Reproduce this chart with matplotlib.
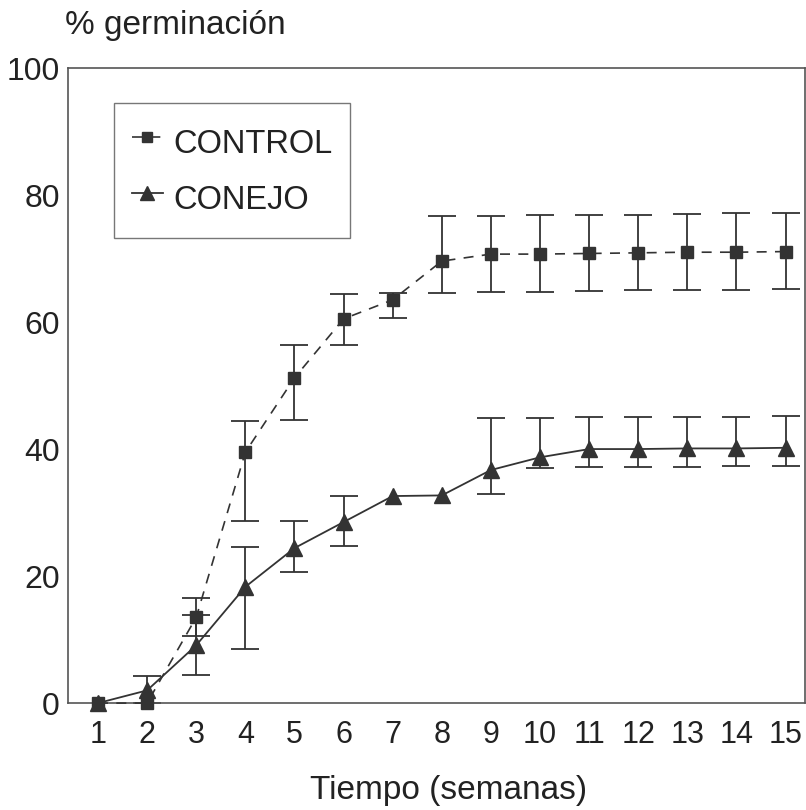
import matplotlib
matplotlib.use('Agg')
from matplotlib import pyplot as plt

plt.rcParams['font.family'] = ['Liberation Sans', 'DejaVu Sans']

semanas = list(range(1, 16))

# CONTROL: media y extremos de las barras de error
control = [0, 0, 13.5, 39.5, 51.2, 60.5, 63.5, 69.6, 70.7, 70.7, 70.8, 70.9, 71.0, 71.0, 71.1]
control_lo = [0, 0, 10.5, 28.7, 44.6, 56.4, 60.6, 64.6, 64.7, 64.8, 64.9, 65.0, 65.0, 65.1, 65.2]
control_hi = [0, 0, 16.5, 44.4, 56.4, 64.4, 64.6, 76.7, 76.7, 76.8, 76.8, 76.9, 77.0, 77.1, 77.2]

# CONEJO
conejo = [0, 2.0, 9.1, 18.3, 24.4, 28.5, 32.6, 32.7, 36.7, 38.7, 40.0, 40.0, 40.1, 40.1, 40.2]
conejo_lo = [0, 0, 4.4, 8.5, 20.6, 24.7, 32.6, 32.7, 32.9, 37.0, 37.2, 37.2, 37.2, 37.3, 37.3]
conejo_hi = [0, 4.2, 13.8, 24.6, 28.7, 32.6, 32.6, 32.7, 44.9, 44.9, 45.0, 45.0, 45.1, 45.1, 45.2]

c = '#333333'

fig = plt.figure(figsize=(8.06, 8.10), dpi=100)
ax = fig.add_axes([0.0844, 0.132, 0.914, 0.784])


def barras(x, y, lo, hi):
    xs, ys, el, eh = [], [], [], []
    for a, b, l, h in zip(x, y, lo, hi):
        if h - l > 0.5:
            xs.append(a)
            ys.append(b)
            el.append(b - l)
            eh.append(h - b)
    ax.errorbar(xs, ys, yerr=[el, eh], fmt='none', ecolor=c, elinewidth=1.3,
                capsize=10, capthick=1.3, zorder=2)


barras(semanas, control, control_lo, control_hi)
barras(semanas, conejo, conejo_lo, conejo_hi)

ax.plot(semanas, control, linestyle=(0, (6, 5)), color=c, linewidth=1.2,
        marker='s', markersize=8, markerfacecolor=c, markeredgecolor=c,
        label='CONTROL', zorder=3, clip_on=False)
ax.plot(semanas, conejo, linestyle='-', color=c, linewidth=1.3,
        marker='^', markersize=12, markerfacecolor=c, markeredgecolor=c,
        label='CONEJO', zorder=3, clip_on=False)

ax.set_xlim(0.39, 15.39)
ax.set_ylim(0, 100)
ax.set_xticks(semanas)
ax.set_yticks([0, 20, 40, 60, 80, 100])
ax.tick_params(axis='both', length=0, colors='#222222')
ax.tick_params(axis='x', pad=12, labelsize=22)
ax.tick_params(axis='y', pad=6, labelsize=23)
for s in ax.spines.values():
    s.set_color('#555555')
    s.set_linewidth(1.2)

fig.text(0.081, 0.969, '% germinación', fontsize=24, color='#222222', va='center', ha='left')
fig.text(0.556, 0.024, 'Tiempo (semanas)', fontsize=24, color='#222222', va='center', ha='center')

leg = ax.legend(loc='upper left', bbox_to_anchor=(0.0624, 0.945), borderaxespad=0,
                fontsize=23.5, frameon=True, fancybox=False, handlelength=0.95,
                handleheight=1.65, handletextpad=0.31, borderpad=0.55,
                labelspacing=0.4, markerscale=0.85)
leg.get_frame().set_edgecolor('#555555')
leg.get_frame().set_linewidth(1.0)
for t in leg.get_texts():
    t.set_color('#222222')

fig.savefig('out.png', dpi=100)
